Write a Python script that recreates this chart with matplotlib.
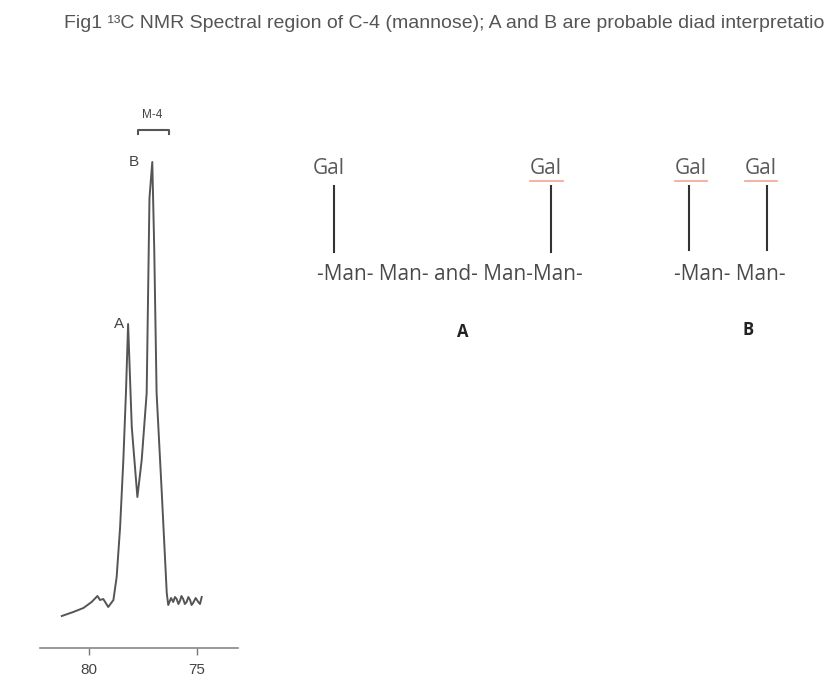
import matplotlib
matplotlib.use("Agg")
import matplotlib.pyplot as plt

# ---- data ----
ppm = [81.26, 80.73, 80.26, 79.88, 79.61, 79.49, 79.34, 79.11, 78.87, 78.72, 78.56,
       78.41, 78.29, 78.19, 78.02, 77.76, 77.56, 77.33, 77.20, 77.07, 76.98, 76.87,
       76.63, 76.40, 76.33, 76.20, 76.10, 76.02, 75.94, 75.86, 75.79, 75.72, 75.64,
       75.56, 75.48, 75.40, 75.32, 75.25, 75.18, 75.06, 74.94, 74.86, 74.78]
intensity = [32, 36, 40, 46, 52, 48, 49, 41, 48, 71, 121,
             188, 255, 324, 221, 151, 188, 255, 450, 486, 400, 255,
             155, 55, 43, 50, 46, 51, 49, 44, 47, 52, 49,
             44, 46, 51, 48, 43, 45, 50, 46, 44, 51]
xticks = [80, 75]
peak_labels = ["A", "B"]
# the reference shows the caption cut at the right edge of the image
title = "Fig1 \u00b9\u00b3C NMR Spectral region of C-4 (mannose); A and B are probable diad interpretatio"

W, H = 827, 700
fig = plt.figure(figsize=(W / 100, H / 100), dpi=100)
fig.patch.set_facecolor("white")

def fx(px):
    return px / W

def fy(py):
    return 1 - py / H

# spectrum axes
ax = fig.add_axes([fx(40), fy(648), fx(238) - fx(40), fy(100) - fy(648)])
ax.plot(ppm, intensity, color="#555555", lw=1.4)
ax.set_xlim(82.27, 73.1)
ax.set_ylim(0, 548)
ax.set_xticks(xticks)
ax.set_xticklabels([str(t) for t in xticks])
for s in ["top", "left", "right"]:
    ax.spines[s].set_visible(False)
ax.spines["bottom"].set_color("#888888")
ax.spines["bottom"].set_linewidth(1.2)
ax.set_yticks([])
ax.tick_params(axis="x", colors="#777777", labelcolor="#444444", labelsize=11,
               length=5, width=1.0, pad=6)
ax.set_facecolor("none")
for lab in ax.get_xticklabels():
    lab.set_fontfamily("Liberation Sans")

# peak labels
ax.text(78.62, 324, peak_labels[0], ha="center", va="center", fontsize=11,
        color="#444444", family="Liberation Sans")
ax.text(77.92, 486, peak_labels[1], ha="center", va="center", fontsize=11,
        color="#444444", family="Liberation Sans")
ax.text(77.07, 533, "M-4", ha="center", va="center", fontsize=8.5,
        color="#444444", family="Liberation Sans")
ax.plot([77.75, 77.75, 76.28, 76.28], [514, 518, 518, 514], color="#555555", lw=1.5)

# overlay axes in pixel coordinates for title and diagram
ov = fig.add_axes([0, 0, 1, 1])
ov.set_xlim(0, W)
ov.set_ylim(H, 0)
ov.axis("off")
ov.set_facecolor("none")

ov.text(64, 23, title, ha="left", va="center", fontsize=14.0, color="#555555",
        family="Liberation Sans")

gal_color = "#5a5a5a"
man_color = "#4a4a4a"
font_d = "Open Sans"
fs_d = 15
# Diagram A
for xc in [329, 546]:
    ov.text(xc, 168, "Gal", ha="center", va="center", fontsize=fs_d, color=gal_color, family=font_d)
    ov.plot([xc + 5, xc + 5], [186, 252], color="#333333", lw=1.5)
ov.plot([530, 563], [181, 181], color="#f2a58f", lw=1.2)
ov.text(450, 274, "-Man- Man- and- Man-Man-", ha="center", va="center", fontsize=fs_d,
        color=man_color, family=font_d)
ov.text(463, 332, "A", ha="center", va="center", fontsize=12, fontweight="bold",
        color="#222222", family=font_d)
# Diagram B
for xc in [691, 761]:
    ov.text(xc, 168, "Gal", ha="center", va="center", fontsize=fs_d, color=gal_color, family=font_d)
    ov.plot([xc - 16, xc + 16], [181, 181], color="#f2a58f", lw=1.2)
ov.plot([689, 689], [186, 250], color="#333333", lw=1.5)
ov.plot([767, 767], [186, 250], color="#333333", lw=1.5)
ov.text(730, 274, "-Man- Man-", ha="center", va="center", fontsize=fs_d,
        color=man_color, family=font_d)
ov.text(748, 330, "B", ha="center", va="center", fontsize=12, fontweight="bold",
        color="#222222", family=font_d)

fig.savefig("out.png", dpi=100, facecolor="white")
